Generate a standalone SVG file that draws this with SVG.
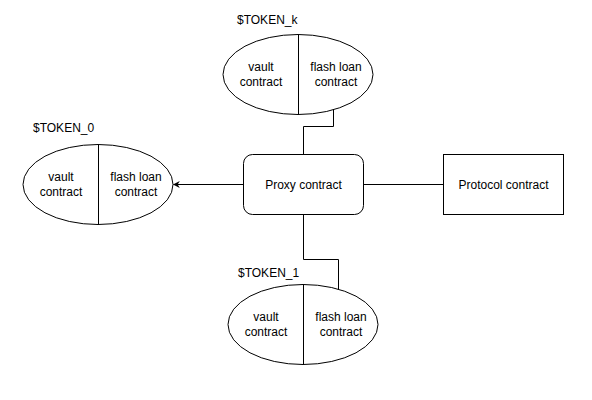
<svg xmlns="http://www.w3.org/2000/svg" width="592" height="400" viewBox="0 0 592 400">
<defs>
<style>
.s{fill:#fff;stroke:#000;stroke-width:1}
.c{fill:none;stroke:#000;stroke-width:1}
text{font-family:"Liberation Sans",Arial,sans-serif;font-size:12px;fill:#000}
.m{text-anchor:middle}
</style>
<marker id="arr" viewBox="0 0 10 10" refX="9" refY="5" markerWidth="7" markerHeight="7" orient="auto" markerUnits="userSpaceOnUse">
<path d="M10,5 L0,0 L3,5 L0,10 Z" fill="#000"/>
</marker>
</defs>
<rect width="592" height="400" fill="#fff"/>
<g id="connectors">
<path class="c" d="M243.5,184.5 H173.5" marker-end="url(#arr)"/>
<path class="c" d="M363.5,184.5 H443.5"/>
<path class="c" d="M303.5,154.5 V126.5 H333.5 V109"/>
<path class="c" d="M303.5,214.5 V259.5 H338.5 V289.5"/>
</g>
<g id="proxy">
<rect class="s" x="243.5" y="154.5" width="120" height="60" rx="9"/>
<text class="m" x="303.5" y="188.5">Proxy contract</text>
</g>
<g id="protocol">
<rect class="s" x="443.5" y="154.5" width="120" height="60"/>
<text class="m" x="503.5" y="188.5">Protocol contract</text>
</g>
<g id="token_k">
<text x="237" y="24">$TOKEN_k</text>
<ellipse class="s" cx="298" cy="74.5" rx="75" ry="40"/>
<line class="c" x1="298.5" y1="34.5" x2="298.5" y2="114.5"/>
<text class="m" x="261" y="71">vault</text>
<text class="m" x="261" y="86">contract</text>
<text class="m" x="336" y="71">flash loan</text>
<text class="m" x="336" y="86">contract</text>
</g>
<g id="token_0">
<text x="33" y="132">$TOKEN_0</text>
<ellipse class="s" cx="98" cy="184.5" rx="75" ry="40"/>
<line class="c" x1="98.5" y1="144.5" x2="98.5" y2="224.5"/>
<text class="m" x="61" y="181">vault</text>
<text class="m" x="61" y="196">contract</text>
<text class="m" x="136" y="181">flash loan</text>
<text class="m" x="136" y="196">contract</text>
</g>
<g id="token_1">
<text x="238" y="277">$TOKEN_1</text>
<ellipse class="s" cx="303" cy="324.5" rx="75" ry="40"/>
<line class="c" x1="303.5" y1="284.5" x2="303.5" y2="364.5"/>
<text class="m" x="266" y="321">vault</text>
<text class="m" x="266" y="336">contract</text>
<text class="m" x="341" y="321">flash loan</text>
<text class="m" x="341" y="336">contract</text>
</g>
</svg>
